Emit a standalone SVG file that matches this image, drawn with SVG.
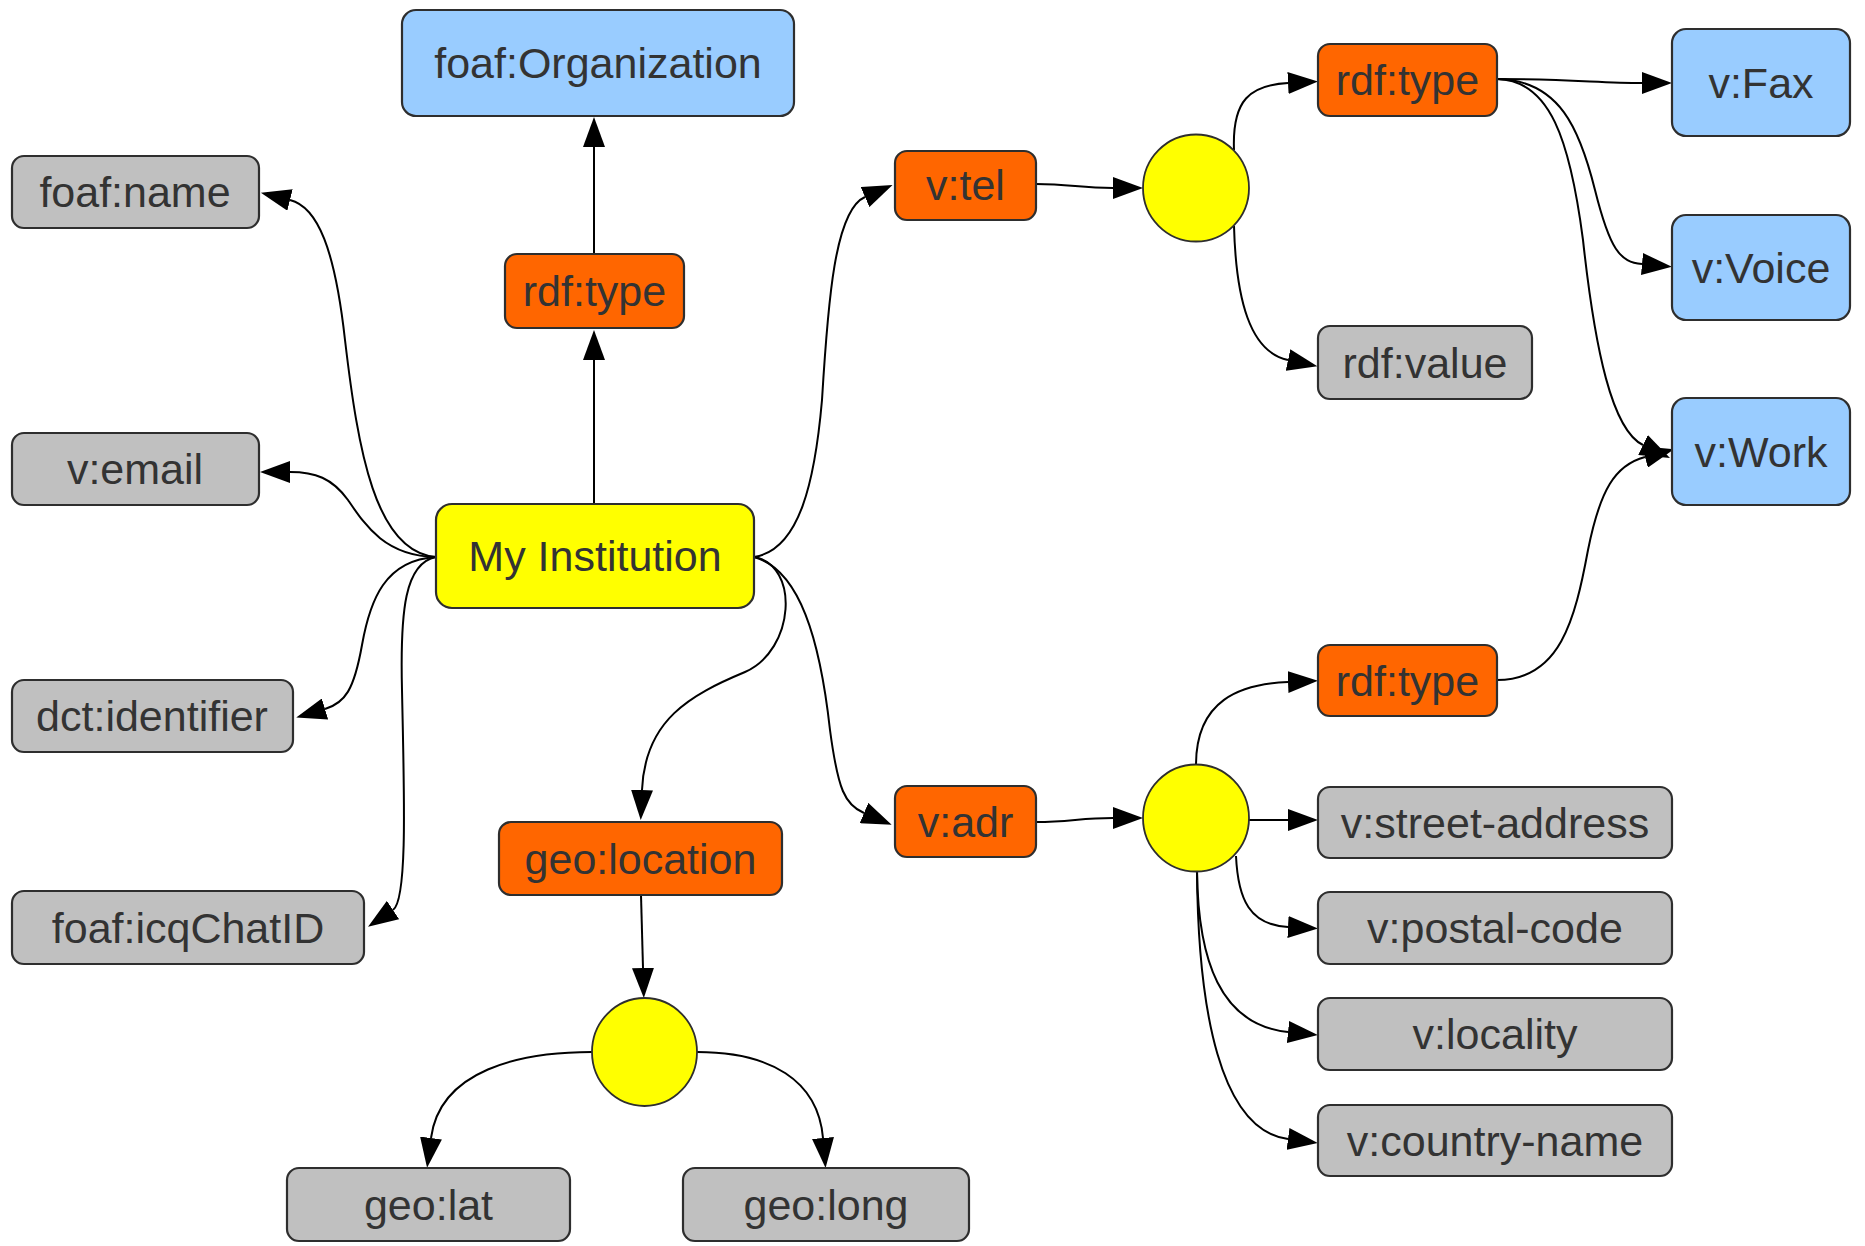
<svg xmlns="http://www.w3.org/2000/svg" width="1865" height="1246" viewBox="0 0 1865 1246">
<style>
.n rect{stroke:#2e2e2e;stroke-width:2.2}
.n ellipse{stroke:#2e2e2e;stroke-width:1.8;fill:#ffff00}
.blue rect{fill:#99ccff}
.orange rect{fill:#ff6600}
.gray rect{fill:#c0c0c0}
.yellow rect{fill:#ffff00}
.n text{font-family:"Liberation Sans",Arial,sans-serif;font-size:43px;fill:#333;text-anchor:middle}
.e path{fill:none;stroke:#000;stroke-width:2;marker-end:url(#arr)}
</style>
<defs>
<marker id="arr" markerUnits="userSpaceOnUse" markerWidth="30" markerHeight="22" refX="0" refY="11" orient="auto" viewBox="0 0 30 22">
<path d="M0,0 L30,11 L0,22 z" fill="#000"/>
</marker>
</defs>
<rect width="1865" height="1246" fill="#fff"/>
<g class="e" id="connectors">
<path d="M594,504 L594,360"/>
<path d="M594,254 L594,147"/>
<path d="M436,557 C375,552 358,450 345,340 C335,250 318,207 290,200"/>
<path d="M436,557 C385,556 365,525 348,500 C332,478 315,472 290,472"/>
<path d="M436,557 C385,560 370,600 362,645 C354,690 345,703 325,709"/>
<path d="M436,557 C405,563 400,610 402,690 C404,790 408,900 393,910"/>
<path d="M754,557 C800,550 815,480 822,400 C828,300 835,210 865,197"/>
<path d="M754,557 C800,565 795,650 745,672 C690,695 645,720 642,790"/>
<path d="M754,557 C800,570 820,640 830,730 C838,790 845,805 864,813"/>
<path d="M1036,184 C1070,184 1080,188 1113,188"/>
<path d="M1036,822 C1070,822 1080,818 1113,818"/>
<path d="M1234,150 C1232,100 1250,85 1288,83"/>
<path d="M1234,226 C1236,300 1250,352 1288,360"/>
<path d="M1497,79 C1570,79 1600,83 1642,83"/>
<path d="M1497,79 C1560,80 1580,130 1595,190 C1610,250 1620,262 1642,264"/>
<path d="M1497,79 C1550,80 1570,140 1583,240 C1595,350 1612,430 1643,445"/>
<path d="M1497,680 C1560,680 1575,620 1588,550 C1600,490 1615,465 1645,457"/>
<path d="M1196,765 C1196,700 1240,684 1288,682"/>
<path d="M1249,820 L1288,820"/>
<path d="M1236,856 C1238,900 1250,925 1288,927"/>
<path d="M1197,871 C1198,960 1220,1025 1288,1032"/>
<path d="M1197,871 C1198,1010 1220,1130 1288,1139"/>
<path d="M641,895 L643,968"/>
<path d="M592,1052 C520,1052 440,1070 431,1138"/>
<path d="M697,1052 C770,1052 818,1080 823,1138"/>
</g>
<g class="n blue" id="foaf-organization"><rect x="402" y="10" width="392" height="106" rx="14"/><text x="598" y="78">foaf:Organization</text></g>
<g class="n gray" id="foaf-name"><rect x="12" y="156" width="247" height="72" rx="12"/><text x="135" y="207">foaf:name</text></g>
<g class="n gray" id="v-email"><rect x="12" y="433" width="247" height="72" rx="12"/><text x="135" y="484">v:email</text></g>
<g class="n gray" id="dct-identifier"><rect x="12" y="680" width="281" height="72" rx="12"/><text x="152" y="731">dct:identifier</text></g>
<g class="n gray" id="foaf-icqchatid"><rect x="12" y="891" width="352" height="73" rx="12"/><text x="188" y="943">foaf:icqChatID</text></g>
<g class="n orange" id="rdf-type-1"><rect x="505" y="254" width="179" height="74" rx="12"/><text x="594.5" y="306">rdf:type</text></g>
<g class="n yellow" id="my-institution"><rect x="436" y="504" width="318" height="104" rx="16"/><text x="595" y="571">My Institution</text></g>
<g class="n orange" id="v-tel"><rect x="895" y="151" width="141" height="69" rx="12"/><text x="965.5" y="200">v:tel</text></g>
<g class="n orange" id="v-adr"><rect x="895" y="786" width="141" height="71" rx="12"/><text x="965.5" y="837">v:adr</text></g>
<g class="n orange" id="geo-location"><rect x="499" y="822" width="283" height="73" rx="12"/><text x="640.5" y="874">geo:location</text></g>
<g class="n gray" id="geo-lat"><rect x="287" y="1168" width="283" height="73" rx="12"/><text x="428.5" y="1220">geo:lat</text></g>
<g class="n gray" id="geo-long"><rect x="683" y="1168" width="286" height="73" rx="12"/><text x="826" y="1220">geo:long</text></g>
<g class="n" id="bnode-tel"><ellipse cx="1196" cy="188" rx="53" ry="53.5"/></g>
<g class="n" id="bnode-adr"><ellipse cx="1196" cy="818" rx="53" ry="53.5"/></g>
<g class="n" id="bnode-geo"><ellipse cx="644.5" cy="1052" rx="52.5" ry="54"/></g>
<g class="n orange" id="rdf-type-2"><rect x="1318" y="44" width="179" height="72" rx="12"/><text x="1407.5" y="95">rdf:type</text></g>
<g class="n gray" id="rdf-value"><rect x="1318" y="326" width="214" height="73" rx="12"/><text x="1425" y="378">rdf:value</text></g>
<g class="n blue" id="v-fax"><rect x="1672" y="29" width="178" height="107" rx="14"/><text x="1761" y="98">v:Fax</text></g>
<g class="n blue" id="v-voice"><rect x="1672" y="215" width="178" height="105" rx="14"/><text x="1761" y="283">v:Voice</text></g>
<g class="n blue" id="v-work"><rect x="1672" y="398" width="178" height="107" rx="14"/><text x="1761" y="467">v:Work</text></g>
<g class="n orange" id="rdf-type-3"><rect x="1318" y="645" width="179" height="71" rx="12"/><text x="1407.5" y="696">rdf:type</text></g>
<g class="n gray" id="v-street-address"><rect x="1318" y="787" width="354" height="71" rx="12"/><text x="1495" y="838">v:street-address</text></g>
<g class="n gray" id="v-postal-code"><rect x="1318" y="892" width="354" height="72" rx="12"/><text x="1495" y="943">v:postal-code</text></g>
<g class="n gray" id="v-locality"><rect x="1318" y="998" width="354" height="72" rx="12"/><text x="1495" y="1049">v:locality</text></g>
<g class="n gray" id="v-country-name"><rect x="1318" y="1105" width="354" height="71" rx="12"/><text x="1495" y="1156">v:country-name</text></g>
</svg>
